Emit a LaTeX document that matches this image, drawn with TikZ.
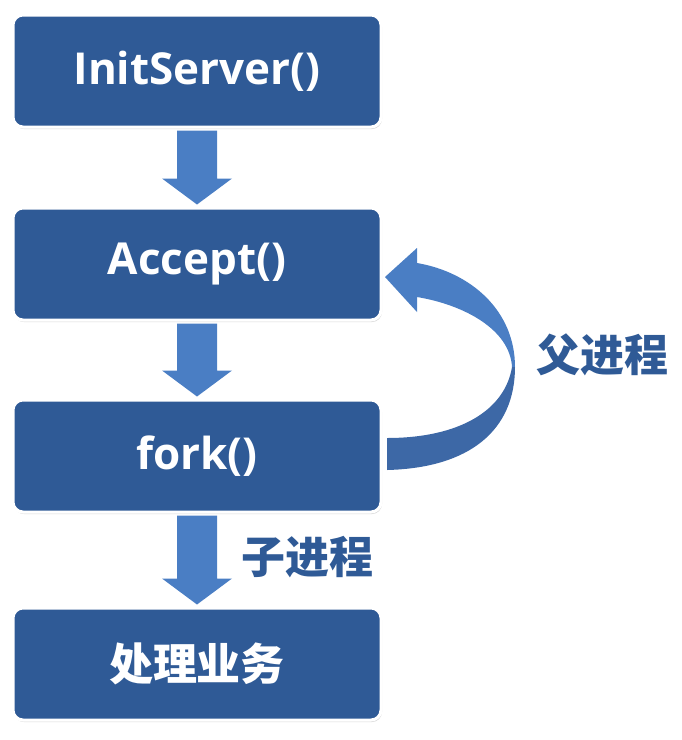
\documentclass[tikz,border=0pt]{standalone}
\usepackage{fontspec}
\setmainfont{Open Sans}
\newfontfamily\cjk{Noto Sans CJK SC}
\usetikzlibrary{shadows}
\definecolor{boxblue}{HTML}{2F5A96}
\definecolor{arrblue}{HTML}{4A7EC4}
\definecolor{arrdark}{HTML}{3D68A6}
\begin{document}
\begin{tikzpicture}[x=1pt,y=-1pt,
  box/.style={draw=white,line width=3pt,fill=boxblue,rounded corners=10pt,minimum width=368pt,minimum height=112pt,text=white,font=\fontsize{44pt}{50pt}\selectfont\bfseries,drop shadow={shadow xshift=1pt,shadow yshift=-2pt,opacity=0.3}},
  lbl/.style={text=boxblue,font=\fontsize{44pt}{50pt}\selectfont\cjk\bfseries},
  barrow/.style={fill=arrblue}]
\useasboundingbox (0,0) rectangle (682,740);
\node[box] (b1) at (197,71) {InitServer()};
\node[box] (b2) at (197,264) {Accept()};
\node[box] (b3) at (197,456) {fork()};
\node[box] (b4) at (197,664) {\cjk\bfseries 处理业务};
\foreach \a/\b in {b1/b2,b2/b3,b3/b4}{
  \path (\a.south) coordinate (s) (\b.north) coordinate (t);
  \fill[barrow] ([xshift=-20pt,yshift=-2pt]s) -- ([xshift=20pt,yshift=-2pt]s) -- ([xshift=20pt,yshift=28pt]t) -- ([xshift=35pt,yshift=28pt]t) -- ([yshift=2pt]t) -- ([xshift=-35pt,yshift=28pt]t) -- ([xshift=-20pt,yshift=28pt]t) -- cycle;
}
\coordinate (tip) at (385,277);
\fill[arrblue] (515,367) .. controls (515,310) and (470,272) .. (417,263) -- (417,248) -- (tip) -- (417,312) -- (417,297) .. controls (465,305) and (510,330) .. (512,367) -- cycle;
\fill[arrdark] (387,470) .. controls (470,468) and (515,430) .. (515,367) -- (512,367) .. controls (505,410) and (460,438) .. (387,438) -- cycle;
\node[lbl] (p) at (602,355) {父进程};
\node[lbl] (c) at (307,557) {子进程};
\end{tikzpicture}
\end{document}
